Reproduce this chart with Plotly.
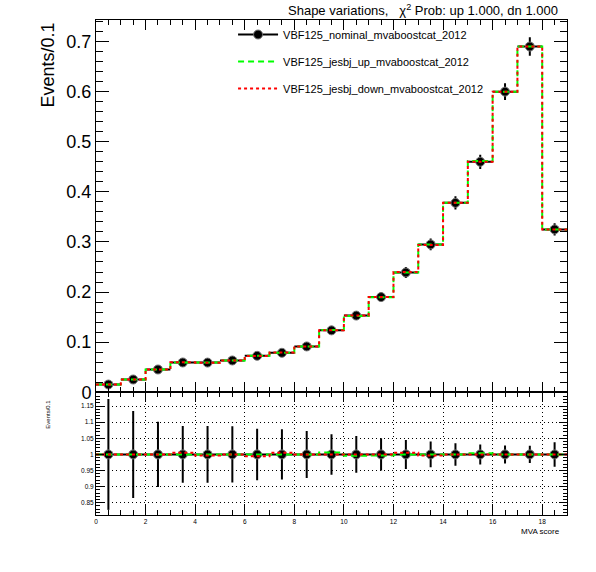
import plotly.graph_objects as go

# MVA score binning (19 bins of width 1)
bin_edges = list(range(0, 20))
bin_centers = [e + 0.5 for e in bin_edges[:-1]]

nominal = [0.0154, 0.0254, 0.0454, 0.0594, 0.0592, 0.0634, 0.0727, 0.0787, 0.0914, 0.1235,
           0.153, 0.190, 0.239, 0.295, 0.378, 0.460, 0.600, 0.690, 0.325]
nominal_err = [0.00265, 0.00343, 0.00459, 0.00523, 0.00521, 0.00552, 0.00582, 0.00614, 0.00667, 0.00778,
               0.00872, 0.0095, 0.01076, 0.0118, 0.01323, 0.01426, 0.0168, 0.0185, 0.01235]
jesbj_up = [0.0154, 0.0254, 0.0454, 0.0594, 0.0592, 0.0634, 0.0727, 0.0787, 0.0914, 0.1242,
            0.1524, 0.1894, 0.239, 0.295, 0.378, 0.4618, 0.600, 0.690, 0.325]
jesbj_down = [0.0154, 0.0254, 0.0454, 0.0597, 0.0590, 0.0634, 0.0723, 0.0791, 0.0914, 0.1235,
              0.153, 0.190, 0.2402, 0.2941, 0.378, 0.460, 0.600, 0.690, 0.325]

ratio_nom = [n / n for n in nominal]
ratio_err = [e / n for e, n in zip(nominal_err, nominal)]
ratio_up = [u / n for u, n in zip(jesbj_up, nominal)]
ratio_down = [d / n for d, n in zip(jesbj_down, nominal)]

FONT = "Liberation Sans, Arial, sans-serif"
GREEN = "#00ff00"
RED = "#ff0000"
marker = dict(symbol="circle", size=9, color="black", line=dict(color="#777777", width=1))


def steps(vals):
    return vals + [vals[-1]]


fig = go.Figure()

# ---- top pad ----
fig.add_trace(go.Scatter(
    x=bin_centers, y=nominal, mode="markers", marker=marker, showlegend=False,
    error_y=dict(type="data", array=nominal_err, color="black", thickness=2, width=0),
    error_x=dict(type="constant", value=0.5, color="black", thickness=2, width=0),
    xaxis="x", yaxis="y"))
fig.add_trace(go.Scatter(
    x=bin_edges, y=steps(jesbj_up), mode="lines", line_shape="hv", showlegend=False,
    line=dict(color=GREEN, width=2, dash="6px,4px"), xaxis="x", yaxis="y"))
fig.add_trace(go.Scatter(
    x=bin_edges, y=steps(jesbj_down), mode="lines", line_shape="hv", showlegend=False,
    line=dict(color=RED, width=2, dash="3px,3px"), xaxis="x", yaxis="y"))

# legend entries
fig.add_trace(go.Scatter(x=[None], y=[None], mode="lines+markers", name="VBF125_nominal_mvaboostcat_2012",
                         marker=marker, line=dict(color="black", width=2), legendgroup="a"))
fig.add_trace(go.Scatter(x=[None], y=[None], mode="lines", name="VBF125_jesbj_up_mvaboostcat_2012",
                         line=dict(color=GREEN, width=2, dash="6px,4px"), legendgroup="b"))
fig.add_trace(go.Scatter(x=[None], y=[None], mode="lines", name="VBF125_jesbj_down_mvaboostcat_2012",
                         line=dict(color=RED, width=2, dash="3px,3px"), legendgroup="c"))

# ---- ratio pad ----
fig.add_trace(go.Scatter(
    x=bin_centers, y=ratio_nom, mode="markers", marker=marker, showlegend=False,
    error_y=dict(type="data", array=ratio_err, color="black", thickness=2, width=0),
    error_x=dict(type="constant", value=0.5, color="black", thickness=2, width=0),
    xaxis="x2", yaxis="y2"))
fig.add_trace(go.Scatter(
    x=bin_edges, y=steps(ratio_up), mode="lines", line_shape="hv", showlegend=False,
    line=dict(color=GREEN, width=2, dash="6px,4px"), xaxis="x2", yaxis="y2"))
fig.add_trace(go.Scatter(
    x=bin_edges, y=steps(ratio_down), mode="lines", line_shape="hv", showlegend=False,
    line=dict(color=RED, width=2, dash="3px,3px"), xaxis="x2", yaxis="y2"))

split = 0.248
common_x = dict(range=[0, 19], dtick=2, ticks="inside", ticklen=10, tickcolor="black",
                showline=True, linecolor="black", linewidth=1, mirror="allticks",
                minor=dict(dtick=0.5, ticks="inside", ticklen=5, tickcolor="black"),
                zeroline=False)

fig.update_layout(
    width=596, height=572,
    margin=dict(l=96, r=29, t=20, b=57),
    paper_bgcolor="white", plot_bgcolor="white",
    font=dict(family=FONT, color="black"),
    xaxis=dict(common_x, anchor="y", showticklabels=False, showgrid=False),
    yaxis=dict(domain=[split, 1], range=[0, 0.743], dtick=0.1, ticks="inside", ticklen=13,
               tickcolor="black", showline=True, linecolor="black", linewidth=1, mirror="allticks",
               minor=dict(dtick=0.02, ticks="inside", ticklen=7, tickcolor="black"),
               showgrid=False, zeroline=False, tickfont=dict(size=18)),
    xaxis2=dict(common_x, anchor="y2", matches="x", showgrid=True, gridcolor="black",
                griddash="1px,3px", gridwidth=1, tickfont=dict(size=6.5)),
    yaxis2=dict(domain=[0, split], range=[0.812, 1.193], tickvals=[0.85, 0.9, 0.95, 1, 1.05, 1.1, 1.15],
                ticks="inside", ticklen=8, tickcolor="black", showline=True, linecolor="black",
                linewidth=1, mirror="allticks",
                minor=dict(dtick=0.01, ticks="inside", ticklen=4, tickcolor="black"),
                showgrid=True, gridcolor="black", griddash="1px,3px", gridwidth=1,
                zeroline=False, tickfont=dict(size=6.5)),
    legend=dict(x=0.291, y=1.0, xanchor="left", yanchor="top", bgcolor="rgba(0,0,0,0)",
                font=dict(size=11), tracegroupgap=8, itemwidth=40),
    annotations=[
        dict(text="Shape variations,   χ<sup>2</sup> Prob: up 1.000, dn 1.000", x=0.985, y=1.02,
             xref="paper", yref="paper", xanchor="right", yanchor="middle", showarrow=False,
             font=dict(size=13)),
        dict(text="Events/0.1", x=-0.102, y=1.0, xref="paper", yref="paper", textangle=-90,
             xanchor="center", yanchor="top", showarrow=False, font=dict(size=18)),
        dict(text="Events/0.1", x=-0.102, y=split - 0.01, xref="paper", yref="paper", textangle=-90,
             xanchor="center", yanchor="top", showarrow=False, font=dict(size=6)),
        dict(text="MVA score", x=0.99, y=-0.02, xref="paper", yref="paper",
             xanchor="right", yanchor="top", showarrow=False, font=dict(size=8)),
    ],
)

# drop the default page margin so the figure sits at the window corner
fig.write_html("out.html", config={"displayModeBar": False},
               post_script="document.body.style.margin = '0';")
